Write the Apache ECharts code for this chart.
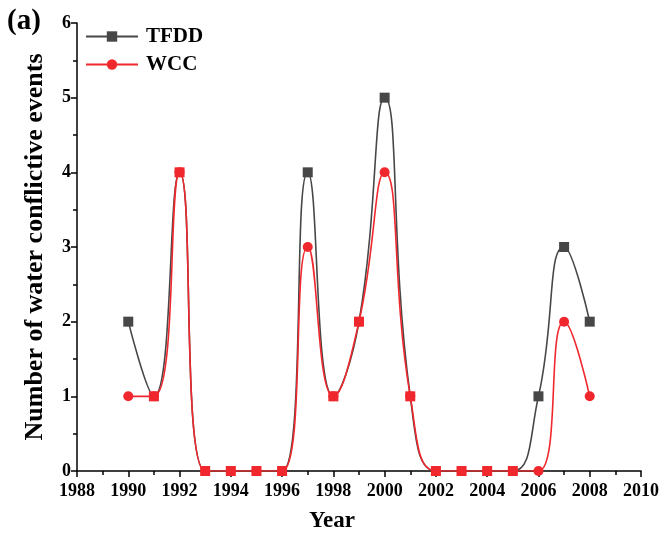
<!DOCTYPE html>
<html>
<head>
<meta charset="utf-8">
<script src="https://cdn.jsdelivr.net/npm/echarts@6/dist/echarts.min.js"></script>
<style>html,body{margin:0;padding:0;background:#fff}#c{width:664px;height:538px}</style>
</head>
<body>
<div id="c"></div>
<script>
var years = [1990,1991,1992,1993,1994,1995,1996,1997,1998,1999,2000,2001,2002,2003,2004,2005,2006,2007,2008];
var tfdd = [2,1,4,0,0,0,0,4,1,2,5,1,0,0,0,0,1,3,2];
var wcc  = [1,1,4,0,0,0,0,3,1,2,4,1,0,0,0,0,0,2,1];
var seriesNames = ['TFDD','WCC'];
var yTicks = [0,1,2,3,4,5,6];

var GRAY = '#474747', RED = '#f0282d';
var FONT = 'Liberation Serif';

var tfddData = years.map(function(y,i){
  var item = {value:[y, tfdd[i]]};
  if (tfdd[i] === wcc[i]) item.itemStyle = {color: RED};
  return item;
});
var wccData = years.map(function(y,i){ return [y, wcc[i]]; });

var chart = echarts.init(document.getElementById('c'));
chart.setOption({
  animation:false,
  backgroundColor:'#fff',
  graphic:[{type:'text', left:7, top:7, style:{text:'(a)', font:'bold 29px "Liberation Serif"', fill:'#000'}}],
  legend:{
    left:85, top:26, orient:'vertical', itemWidth:52, itemHeight:13, itemGap:7, padding:0,
    data:seriesNames,
    textStyle:{fontFamily:FONT, fontWeight:'bold', fontSize:21, color:'#000', padding:[0,0,0,3]}
  },
  grid:{left:77, right:23, top:23, bottom:65},
  xAxis:{
    type:'value', min:1988, max:2010, interval:2,
    name:'Year', nameLocation:'middle', nameGap:39,
    nameTextStyle:{fontFamily:FONT, fontWeight:'bold', fontSize:23, color:'#000', padding:[0,54,0,0]},
    splitLine:{show:false},
    axisLine:{lineStyle:{color:'#000', width:1.5}},
    axisTick:{inside:false, length:6, lineStyle:{color:'#000', width:1.5}},
    minorTick:{show:true, splitNumber:2, length:4, lineStyle:{color:'#000', width:1.5}},
    axisLabel:{fontFamily:FONT, fontWeight:'bold', fontSize:18, color:'#000', margin:11,
      formatter:function(v){return String(v);}}
  },
  yAxis:{
    type:'value', min:yTicks[0], max:yTicks[yTicks.length-1], interval:1,
    name:'Number of water conflictive events', nameLocation:'middle', nameGap:29,
    nameTextStyle:{fontFamily:FONT, fontWeight:'bold', fontSize:26, color:'#000'},
    splitLine:{show:false},
    axisLine:{show:true, lineStyle:{color:'#000', width:1.5}},
    axisTick:{show:true, inside:false, length:6, lineStyle:{color:'#000', width:1.5}},
    minorTick:{show:true, splitNumber:2, length:4, lineStyle:{color:'#000', width:1.5}},
    axisLabel:{fontFamily:FONT, fontWeight:'bold', fontSize:18, color:'#000', margin:6}
  },
  series:[
    {name:seriesNames[0], type:'line', data:tfddData, smooth:0.5,
     symbol:'rect', symbolSize:10, color:GRAY,
     itemStyle:{color:GRAY}, lineStyle:{color:GRAY, width:1.6}, z:2},
    {name:seriesNames[1], type:'line', data:wccData, smooth:0.5,
     symbol:'circle', symbolSize:10, color:RED,
     itemStyle:{color:RED}, lineStyle:{color:RED, width:1.6}, z:3}
  ]
});
</script>
</body>
</html>
